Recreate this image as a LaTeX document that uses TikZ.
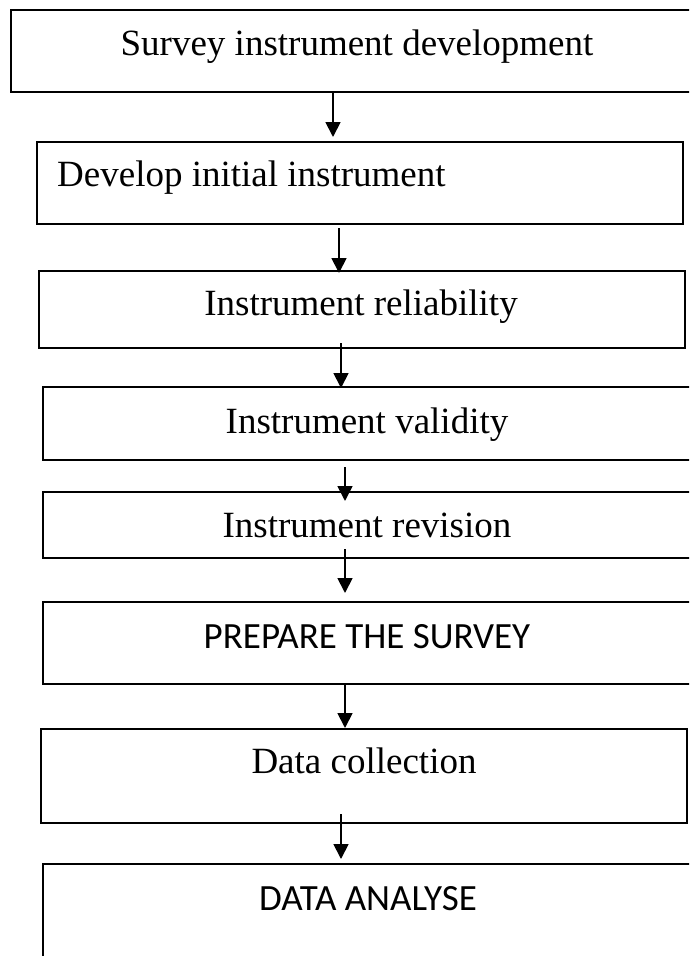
\documentclass[tikz,border=0pt]{standalone}
\usepackage{fontspec}
\setmainfont{Liberation Serif}
\newfontfamily\calib{Carlito}
\usetikzlibrary{arrows.meta}
\begin{document}
\begin{tikzpicture}[x=1pt,y=-1pt,
  boxst/.style={draw, line width=1.7pt, inner sep=0pt, outer sep=0pt, rectangle},
  lbl/.style={anchor=base, inner sep=0pt, font=\fontsize{37}{44}\selectfont},
  sanslbl/.style={lbl, font=\calib\fontsize{37}{44}\selectfont},
  arr/.style={line width=1.8pt, -{Triangle[width=15pt,length=15pt]}}]
\useasboundingbox (0,0) rectangle (689,956);
\fill[white] (0,0) rectangle (689,956);
\clip (0,0) rectangle (689,956);
% boxes
\node[boxst, minimum width=709pt, minimum height=82pt] (b1) at (365.5,51) {};
\node[boxst, minimum width=646pt, minimum height=82pt] (b2) at (360,183) {};
\node[boxst, minimum width=646pt, minimum height=77pt] (b3) at (362,309.5) {};
\node[boxst, minimum width=677pt, minimum height=73pt] (b4) at (381.5,423.5) {};
\node[boxst, minimum width=677pt, minimum height=66pt] (b5) at (381.5,525) {};
\node[boxst, minimum width=677pt, minimum height=82pt] (b6) at (381.5,643) {};
\node[boxst, minimum width=646pt, minimum height=94pt] (b7) at (364,776) {};
\node[boxst, minimum width=677pt, minimum height=136pt] (b8) at (381.5,932) {};
% labels
\node[lbl] (t1) at (357,55) {Survey instrument development};
\node[lbl, anchor=base west] (t2) at (57,186) {Develop initial instrument};
\node[lbl] (t3) at (361,315) {Instrument reliability};
\node[lbl] (t4) at (367,433) {Instrument validity};
\node[lbl] (t5) at (367,537) {Instrument revision};
\node[sanslbl] (t6) at (367,648) {PREPARE THE SURVEY};
\node[lbl] (t7) at (364,773) {Data collection};
\node[sanslbl] (t8) at (368,910) {DATA ANALYSE};
% arrow ends
\coordinate (s1) at (333,92);  \coordinate (e1) at (333,137);
\coordinate (s2) at (339,228); \coordinate (e2) at (339,273);
\coordinate (s3) at (341,343); \coordinate (e3) at (341,388);
\coordinate (s4) at (345,467); \coordinate (e4) at (345,501);
\coordinate (s5) at (345,549); \coordinate (e5) at (345,593);
\coordinate (s6) at (345,684); \coordinate (e6) at (345,728);
\coordinate (s7) at (341,814); \coordinate (e7) at (341,859);
\draw[arr] (s1) -- (e1);
\draw[arr] (s2) -- (e2);
\draw[arr] (s3) -- (e3);
\draw[arr] (s4) -- (e4);
\draw[arr] (s5) -- (e5);
\draw[arr] (s6) -- (e6);
\draw[arr] (s7) -- (e7);
\end{tikzpicture}
\end{document}
